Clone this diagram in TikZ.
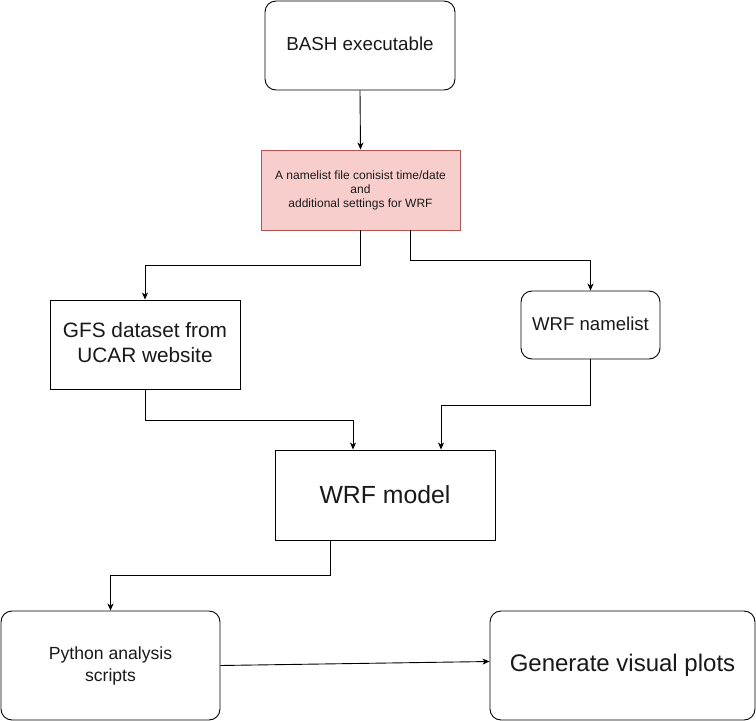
\documentclass[tikz,border=0pt]{standalone}
\usepackage{fontspec}
\setmainfont{Liberation Sans}
\usetikzlibrary{arrows.meta,calc}
\definecolor{redfill}{HTML}{F8CECC}
\definecolor{redline}{HTML}{B85450}
\tikzset{
  box/.style={draw=black, line width=0.9pt, align=center, inner sep=0pt, text=black!90},
  rbox/.style={box, rounded corners=11pt},
  arr/.style={draw=black, line width=0.9pt, -{Stealth[length=7pt,width=6pt,inset=2pt]}},
}
\begin{document}
\begin{tikzpicture}[x=1pt,y=-1pt]
\useasboundingbox (0,0) rectangle (756,721);
\fill[white] (0,0) rectangle (756,721);
\node[rbox, minimum width=190pt, minimum height=89pt, font=\fontsize{18.8}{22}\selectfont] (bash) at (360,45.5) {\raisebox{4pt}{BASH executable}};
\node[box, draw=redline, fill=redfill, minimum width=199pt, minimum height=80pt, font=\fontsize{12}{14}\selectfont] (nl) at (360.5,190) {A namelist file conisist time/date\\and\\additional settings for WRF};
\node[box, minimum width=190pt, minimum height=89pt, font=\fontsize{20.8}{25}\selectfont] (gfs) at (145,344.5) {\raisebox{1.5pt}{\begin{tabular}{@{}c@{}}GFS dataset from\\UCAR website\end{tabular}}};
\node[rbox, minimum width=139pt, minimum height=68pt, font=\fontsize{18.6}{22}\selectfont] (wnl) at (590.5,325) {\raisebox{2pt}{WRF namelist}};
\node[box, minimum width=220pt, minimum height=90pt, font=\fontsize{24.8}{30}\selectfont] (model) at (385,495) {WRF model};
\node[rbox, minimum width=219pt, minimum height=109pt, font=\fontsize{17.6}{22}\selectfont] (py) at (110.5,665.5) {Python analysis\\scripts};
\node[rbox, minimum width=265pt, minimum height=109pt, font=\fontsize{24}{29}\selectfont] (gen) at (622.5,665.5) {\raisebox{6pt}{Generate visual plots}};
\draw[arr] (bash.south) -- (nl.north);
\draw[arr] (nl.south) -- ++(0,35) -| (gfs.north);
\draw[arr] ([xshift=50pt]nl.south) -- ++(0,30) -| (wnl.north);
\draw[arr] (gfs.south) -- ++(0,31) -| ([xshift=-32pt]model.north);
\draw[arr] (wnl.south) -- ++(0,46) -| ([xshift=56pt]model.north);
\draw[arr] ([xshift=-55pt]model.south) -- ++(0,35) -| (py.north);
\draw[arr] (py.east) -- ([yshift=4pt]gen.west);
\end{tikzpicture}
\end{document}
